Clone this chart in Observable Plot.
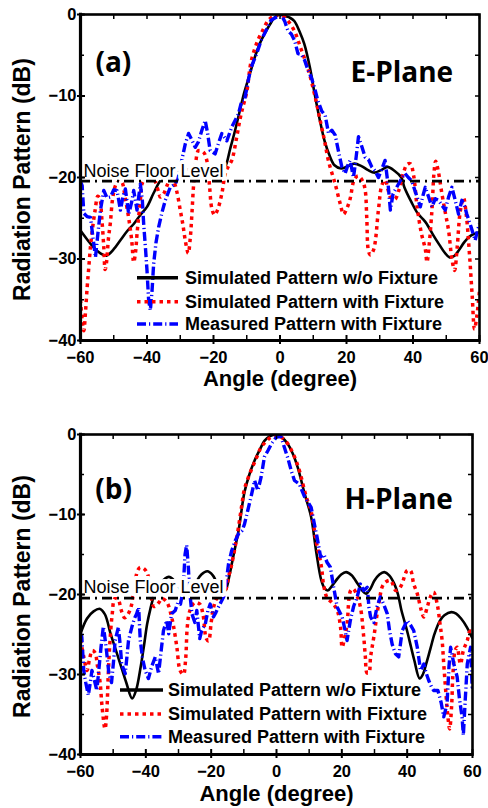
<!DOCTYPE html>
<html><head><meta charset="utf-8">
<script src="https://cdn.jsdelivr.net/npm/d3@7"></script>
<script src="https://cdn.jsdelivr.net/npm/@observablehq/plot@0.6"></script>
<style>
html,body{margin:0;padding:0;background:#fff;}
#wrap{position:relative;width:488px;height:808px;overflow:hidden;background:#fff;}
#wrap > svg{position:absolute;left:0;}
</style></head><body><div id="wrap"></div>
<script>
// ---------- data (angle in degree, pattern in dB) ----------
const xTicks = [-60, -40, -20, 0, 20, 40, 60];
const yTicks = [0, -10, -20, -30, -40];
const noiseFloor = -20.45;
const seriesNames = ["Simulated Pattern w/o Fixture", "Simulated Pattern with Fixture", "Measured Pattern with Fixture"];

// (a) E-Plane
const eSimNoFix = [[-60,-26.5],[-58,-27.6],[-56,-28.6],[-54,-29.3],[-52.2,-29.6],[-50,-28.8],[-48,-27.7],[-46,-26.6],[-44,-25.7],[-42,-24.6],[-40,-23.6],[-38,-21.9],[-36,-20.4],[-34,-19.6],[-32,-19.2],[-29,-19],[-26,-19.1],[-23,-19.3],[-20,-19.5],[-18,-19.2],[-16.5,-18.7],[-15,-16.5],[-13.5,-14.2],[-11.5,-10.8],[-10.7,-9.5],[-9,-7.2],[-7.7,-5.4],[-6,-3.5],[-4.7,-2.4],[-3,-1.2],[-1.7,-0.4],[0,0],[1.5,-0.2],[3,-0.4],[4.3,-0.8],[6,-2.2],[7.3,-3.6],[9,-6.5],[10.4,-9.7],[12,-13],[13.4,-15.5],[15,-17.4],[16.4,-18.5],[18.4,-18.9],[20.4,-18.6],[22.4,-18.3],[24.5,-18.6],[26.5,-19.1],[28.4,-19.4],[30.4,-19.1],[32.3,-18.7],[34.5,-19.2],[36.5,-20],[37.4,-21.2],[39.5,-23],[41.4,-24.4],[43,-25.1],[44,-25.6],[46,-27],[48,-28.3],[49.5,-29.2],[51,-29.8],[52.5,-29.6],[54,-28.8],[55.5,-27.9],[57.5,-27.1],[60,-26.7]];
const eSimFix = [[-60,-35],[-59.5,-37.5],[-59,-38.8],[-58.5,-36.5],[-58,-33.5],[-57.5,-31],[-57,-28.5],[-56.3,-26],[-55.6,-24],[-54.8,-22.3],[-54.2,-22.6],[-53.6,-25],[-53,-28.5],[-52.6,-31.3],[-52.2,-30.5],[-51.6,-27.5],[-51,-25.5],[-50.4,-22.8],[-49.5,-21],[-48.5,-20.3],[-47.5,-20.6],[-46.6,-22.4],[-45.5,-25],[-44.6,-27.7],[-44,-30.4],[-43.4,-29],[-43,-26.9],[-42,-22.8],[-41.5,-20.8],[-40.5,-20],[-39.5,-19.6],[-38.5,-19.8],[-37.5,-20.5],[-36.5,-21.8],[-36,-22.4],[-35,-22],[-34,-21],[-33,-20.2],[-32,-20.5],[-31,-21.8],[-30,-24],[-29.2,-25.8],[-28.5,-27.7],[-27.6,-29.3],[-27,-27.5],[-26.5,-24.5],[-26,-21],[-25.3,-18],[-24.5,-16.7],[-23,-16.9],[-21.8,-18.3],[-21.2,-21],[-20.5,-23.8],[-19.7,-24.6],[-18.8,-24],[-17.5,-22],[-16.5,-19.6],[-15.5,-18.6],[-14.5,-17.9],[-13,-15],[-12,-12.8],[-11.2,-11.4],[-10,-9.5],[-8.7,-5.8],[-6.7,-3.2],[-5,-1.8],[-3.7,-0.8],[-2,-0.2],[0,0],[2,-0.6],[4.3,-2],[6.3,-4.2],[8.3,-6.5],[10.4,-9.8],[12.4,-13.6],[13.4,-15.5],[14.6,-18],[16.6,-20.8],[18.1,-23.2],[19.1,-24.5],[20.1,-23.8],[21.1,-22.6],[22.3,-20.3],[23.5,-19.8],[24.8,-20.4],[25.6,-21.5],[26.1,-25],[26.6,-29],[27.2,-29.5],[28.2,-28.8],[29.6,-24],[30.6,-21],[31.6,-20.3],[32.5,-21.5],[33.2,-22.4],[34.5,-22.7],[35.8,-21.5],[37,-19.6],[38.2,-18.4],[39.2,-18.3],[40.2,-19.8],[41.2,-23.5],[42.5,-26.8],[43.7,-28.8],[44.2,-30.4],[44.8,-28.5],[45.7,-24],[46.3,-19.5],[46.8,-18],[47.5,-19],[48.7,-22],[49.8,-24.5],[50.7,-26.5],[51.7,-30],[52.5,-31.4],[53.3,-28.5],[54.2,-24.2],[55.2,-22.5],[56,-24.5],[57,-29.5],[57.8,-34.5],[58.5,-38.6],[59.2,-37],[60,-33.9]];
const eMeas = [[-60,-20.5],[-59.5,-21],[-59,-24.4],[-58,-24.8],[-57,-24.9],[-56.2,-27.5],[-55.5,-29.8],[-54.8,-27],[-54,-24],[-53,-21.6],[-52,-22.5],[-51,-22.4],[-50,-21.5],[-49,-21.6],[-48,-24],[-47.2,-22.3],[-46.5,-21.4],[-45.5,-24.5],[-44.6,-23],[-44,-21.6],[-43,-24],[-42,-20.8],[-41.4,-22.8],[-41,-25.7],[-40.4,-29],[-40,-31.4],[-39.5,-35.1],[-39,-36.3],[-38.5,-34],[-38,-30.6],[-37.3,-28],[-36.5,-26.1],[-35.5,-24.3],[-34.5,-22.8],[-33,-21.2],[-31.5,-20.8],[-30.5,-19.8],[-29.5,-17.8],[-28.5,-15.9],[-27.5,-14.6],[-26.5,-15.4],[-25.5,-16.3],[-24.5,-15.6],[-23.5,-14.2],[-22.5,-13],[-21.8,-14.5],[-21,-16.7],[-19.5,-17.1],[-18.5,-15.8],[-17.5,-14.6],[-16,-15.5],[-14.5,-13.8],[-12.5,-12.2],[-11.5,-10.6],[-10.7,-10.6],[-9.5,-8],[-8.7,-6.5],[-7,-4.8],[-5.7,-3.2],[-4,-1.8],[-2.7,-0.7],[-1,-0.3],[0.4,-0.1],[1.4,-0.8],[2.4,-2],[3.4,-2.4],[4.4,-3.2],[5.4,-4.8],[6.4,-4.9],[7.4,-5.6],[8.4,-6.8],[9.4,-7.7],[10.4,-9],[11.4,-10.6],[12.5,-11.8],[13.6,-12.4],[14.6,-14.6],[15.6,-14.2],[16.6,-14.8],[17.6,-16.8],[18.6,-18.7],[19.6,-19.5],[20.4,-18.5],[21.1,-17.9],[22.1,-20],[22.9,-17.5],[23.6,-15],[24.6,-16.2],[25.6,-17.5],[26.6,-17.8],[27.6,-18.7],[28.6,-19.2],[29.6,-20],[30.6,-19],[31.6,-17.9],[32.6,-21.2],[33.2,-24],[34,-22],[35.1,-21.2],[36.3,-20.3],[37.6,-19.5],[38.6,-20],[39.6,-20.4],[40.9,-22],[42.2,-23.6],[43,-22.2],[43.7,-21.2],[44.7,-22.4],[45.7,-23.6],[46.7,-22.6],[47.7,-22.8],[48.7,-23.4],[49.7,-24],[50.7,-22.4],[51.7,-21.2],[52.7,-22.8],[53.7,-24.5],[54.7,-22.8],[55.5,-23.5],[56.2,-24.5],[57.4,-26],[58.7,-27.7],[59.4,-26.5],[60,-25.7]];

// (b) H-Plane
const hSimNoFix = [[-60,-24.9],[-58,-23],[-56,-22.1],[-54,-21.8],[-52.5,-22.5],[-50.8,-24.9],[-49.3,-26.8],[-47.8,-28.7],[-46,-31],[-44.2,-33],[-43,-32],[-41.6,-29.1],[-40.6,-26.5],[-39.6,-23.7],[-38.6,-21.8],[-37.6,-20.3],[-35.5,-18.6],[-33,-17.8],[-31,-18.4],[-28.7,-19.7],[-27,-19.8],[-25,-18.7],[-23,-17.5],[-21.2,-17.1],[-19.5,-17.6],[-17.8,-19],[-16.5,-19.8],[-15.5,-19.4],[-14.5,-17.8],[-13.7,-16.2],[-12.6,-14],[-11.6,-12],[-9.8,-7.2],[-8.3,-5],[-6.7,-3.25],[-5,-1.8],[-3.7,-0.8],[-2,-0.2],[0,0],[1.5,-0.3],[3.45,-1.2],[5,-2.4],[6.5,-4.1],[8.6,-7.4],[10.6,-10.3],[12.1,-14.5],[13.7,-18.2],[14.7,-19.2],[15.7,-19.5],[17,-18.9],[18.3,-18.2],[19.8,-17.5],[21.3,-17.2],[23,-17.6],[24.9,-18.7],[26.2,-19.5],[27.4,-19.9],[28.7,-19.3],[30,-18.25],[31.5,-17.5],[33,-17.2],[34.5,-17.6],[36.1,-18.7],[37.2,-20],[38.2,-21.9],[39.2,-23.4],[40.2,-24.9],[41.2,-26.6],[42.2,-28.25],[43.8,-30.5],[44.8,-30],[45.8,-28.7],[47.1,-26.8],[48.4,-24.9],[50,-23.3],[51.4,-22.6],[53.5,-22.2],[55,-22.4],[56.5,-23],[58.3,-24.1],[60,-25.5]];
const hSimFix = [[-60,-25.7],[-59,-27.8],[-58,-29.5],[-57.2,-28],[-56.4,-27],[-55.5,-27.3],[-54.9,-28.7],[-54,-31],[-53.4,-34],[-52.5,-36.8],[-52,-35],[-51.5,-30],[-51,-26],[-50.3,-22.5],[-49.5,-20.5],[-48.5,-20.6],[-47.5,-22],[-46.5,-22.9],[-45.5,-22.5],[-44.5,-21.5],[-43.5,-19],[-42.5,-17],[-41.7,-16.6],[-40.5,-16.8],[-39.5,-17.4],[-38.5,-20],[-37.5,-21.5],[-36,-21],[-35,-20.5],[-33.5,-21],[-32.3,-22.5],[-31.5,-24],[-30.5,-26.6],[-29.5,-29.5],[-28.5,-30],[-27.8,-28],[-27.3,-24],[-26.5,-22],[-25,-21],[-23.5,-21.2],[-22.5,-22.5],[-21.5,-25.5],[-20.8,-25.8],[-20,-23.5],[-19.2,-21.5],[-18,-20.3],[-16,-19.8],[-14.5,-17.5],[-13.7,-16.2],[-12,-12.5],[-10.5,-8.5],[-9.8,-6.8],[-7.8,-4.5],[-6,-2.8],[-4.7,-1.6],[-3,-0.8],[-1.6,-0.3],[0.4,-0.1],[2,-0.5],[3.5,-1.2],[5.3,-2.6],[7,-4.5],[9.1,-7.8],[10.6,-9.6],[12.1,-13.25],[13.7,-16.4],[14.5,-19],[15.6,-20.5],[17,-21],[18.6,-22],[19.6,-24.1],[20.1,-26.6],[20.8,-25.5],[21.6,-23.7],[22.7,-19.5],[23.5,-19.3],[24.7,-20.2],[25.7,-21.6],[26.7,-25.3],[27.2,-27.8],[27.7,-29.8],[28.3,-29.8],[28.8,-27.8],[29.8,-25.3],[31.3,-21.2],[32.8,-18.7],[34.9,-18.25],[36.5,-19.5],[37.5,-19.3],[38.4,-18.7],[40,-17],[41,-17],[42,-18.7],[43.1,-19.9],[44.2,-21.8],[45.1,-22.8],[46.2,-21.5],[47.1,-20.3],[48.1,-19.7],[49.2,-21.2],[50,-23.5],[50.7,-25.75],[51.2,-28.7],[51.8,-32],[52.4,-35],[53,-36.8],[53.6,-34],[54,-30],[54.7,-27],[55.3,-26.6],[56.3,-28.7],[57.2,-27],[58.4,-25.75],[59.2,-24.6],[60,-24.6]];
const hMeas = [[-60,-24.9],[-59.6,-25.3],[-59,-29.5],[-58.4,-31],[-57.6,-32.6],[-57,-31],[-56.5,-29.5],[-55.8,-30.6],[-55,-32],[-54.5,-29.9],[-53.7,-26.5],[-53,-24],[-52.5,-25.5],[-52,-27.2],[-51.3,-29.9],[-50.5,-31],[-49.8,-28],[-49.4,-25.75],[-48.4,-24.1],[-47.8,-26.5],[-47.4,-28.7],[-46.3,-29.9],[-45.3,-25.75],[-44.3,-24.1],[-43.5,-23],[-42.8,-22.4],[-42.2,-21.6],[-41.7,-25.75],[-41,-28],[-40.2,-29.5],[-39.2,-30.5],[-38.2,-29],[-37.1,-27.8],[-36.1,-29.9],[-35.3,-27],[-34.6,-24.5],[-33.6,-23.25],[-33,-24.9],[-32.1,-22.4],[-31,-22],[-30.2,-21],[-29.4,-21.2],[-28.6,-19.5],[-28,-15],[-27.5,-13.8],[-27,-16.5],[-26.6,-19.5],[-25.9,-22.4],[-25,-23.5],[-24.4,-22],[-23.5,-25.5],[-22.9,-24.5],[-21.8,-23.7],[-21,-22],[-20.3,-21.2],[-19.3,-22.8],[-18.5,-22.2],[-17.8,-21.6],[-16.2,-20.3],[-15.2,-17.8],[-14.7,-16.2],[-13.7,-14.5],[-12.6,-13.25],[-11.5,-12.3],[-10.5,-12],[-9.8,-11.2],[-8.8,-9.5],[-7.8,-7.8],[-6.7,-5.75],[-5.7,-7],[-4.7,-5.3],[-3.7,-2.8],[-2.6,-2],[-1.6,-1.2],[0,-0.3],[1.4,-0.3],[2.4,-1.6],[3.5,-3],[4.5,-4.5],[5.5,-5.75],[7,-6.2],[8.6,-7.8],[10.6,-9.1],[11.6,-11.2],[12.4,-12.8],[13.5,-15.3],[14.5,-15],[15.5,-16],[16.5,-16.6],[17.5,-19.1],[18.6,-21.6],[20.1,-22.8],[21,-24.5],[21.6,-25.75],[22.6,-23.25],[23.6,-21.5],[24.7,-20.3],[25.7,-18.7],[26.7,-19.5],[27.8,-19.1],[28.3,-21.6],[28.8,-22.8],[29.8,-23.5],[30.8,-21.5],[31.8,-20.3],[32.8,-21.2],[33.9,-22.4],[34.6,-24.5],[35.4,-26.2],[36.4,-27.4],[37.4,-27.8],[38.5,-24.5],[40,-23.25],[41,-23.8],[42,-24.5],[43.1,-26.6],[44.1,-29.5],[45.1,-28.7],[45.8,-29.8],[46.6,-30.75],[47.4,-31.5],[48.1,-32],[49.4,-32],[50.4,-33.5],[51.2,-35.3],[52.2,-33.7],[52.8,-29],[53.3,-26.6],[54.3,-28.7],[55.3,-30.3],[56,-33],[56.8,-35.3],[57.2,-37.6],[57.8,-33],[58.4,-28.7],[59.4,-26.6],[59.9,-31.6],[60,-30]];

// ---------- styles ----------
const ARIAL = "'Liberation Sans', Arial, sans-serif";
const CALIBRI = "'Open Sans', 'Liberation Sans', sans-serif";
const styleBlack = {stroke: "#000", strokeWidth: 2.6, strokeLinecap: "butt"};
const styleRed = {stroke: "#ff0000", strokeWidth: 3.5, strokeDasharray: "3.5,4", strokeLinecap: "butt"};
const styleBlue = {stroke: "#0000ff", strokeWidth: 3.4, strokeDasharray: "9,3,1.2,3", strokeLinecap: "butt"};

const wrap = document.getElementById("wrap");

function panel(cfg) {
  const W = 488;
  const fw = W - 80 - cfg.mRight;
  const fh = cfg.height - cfg.mTop - cfg.mBottom;
  const minorX = [-50, -30, -10, 10, 30, 50];
  const allX = d3.range(-60, 61, 10);
  const allY = d3.range(0, -41, -5);
  const plot = Plot.plot({
    width: W,
    height: cfg.height,
    marginLeft: 80,
    marginRight: cfg.mRight,
    marginTop: cfg.mTop,
    marginBottom: cfg.mBottom,
    style: {fontFamily: ARIAL, fontSize: "16.5px", fontWeight: "bold", color: "#000", background: "transparent", overflow: "visible"},
    x: {domain: [-60, 60]},
    y: {domain: [-40, 0]},
    marks: [
      Plot.line(cfg.sims, {...styleBlack, curve: "catmull-rom", clip: true}),
      Plot.line(cfg.simf, {...styleRed, curve: "catmull-rom", clip: true}),
      Plot.line(cfg.meas, {...styleBlue, curve: "linear", clip: true}),
      Plot.text(["Noise Floor Level"], {x: -59.1, y: cfg.noiseY, text: d => d, textAnchor: "start", lineAnchor: "middle", fontFamily: ARIAL, fontWeight: "normal", fontSize: 18, stroke: "white", strokeWidth: 8, fill: "#000"}),
      Plot.ruleY([noiseFloor], {stroke: "#000", strokeWidth: 2.6, strokeDasharray: "10,5,2,5"}),
      Plot.text([cfg.tag], {x: -55.5, y: cfg.tagY, text: d => d, textAnchor: "start", lineAnchor: "middle", fontFamily: CALIBRI, fontWeight: "bold", fontSize: 28}),
      Plot.text([cfg.plane], {x: cfg.planeX, y: cfg.tagY - 1.2, text: d => d, textAnchor: "start", lineAnchor: "middle", fontFamily: CALIBRI, fontWeight: "bold", fontSize: 28}),
      // frame
      Plot.frame({stroke: "#000", strokeWidth: 2.6}),
      Plot.ruleX([-60], {strokeWidth: 3.2, insetTop: -1.3, insetBottom: -1.3}),
      Plot.ruleY([-40], {strokeWidth: 3, insetLeft: -1.3, insetRight: -1.3}),
      // ticks
      Plot.tickY(yTicks, {y: d => d, insetLeft: -3, insetRight: fw - 5, strokeWidth: 2}),
      Plot.tickY(allY, {y: d => d, insetLeft: 0, insetRight: fw - 4, strokeWidth: 1.5}),
      Plot.tickY(allY, {y: d => d, insetLeft: fw - 4, insetRight: 0, strokeWidth: 1.5}),
      Plot.tickX(xTicks, {x: d => d, insetTop: fh - 5, insetBottom: -4, strokeWidth: 2}),
      Plot.tickX(minorX, {x: d => d, insetTop: fh - 5, insetBottom: 0, strokeWidth: 1.5}),
      Plot.tickX(allX, {x: d => d, insetTop: 0, insetBottom: fh - 5, strokeWidth: 1.5}),
      // axes
      Plot.axisY(yTicks, {tickSize: 0, tickPadding: 4, label: null, fontSize: 16.5, fontWeight: "bold"}),
      Plot.axisX(xTicks, {tickSize: 0, tickPadding: 11, label: null, fontSize: 16.5, fontWeight: "bold"}),
      Plot.text(["Radiation Pattern (dB)"], {frameAnchor: "left", textAnchor: "middle", lineAnchor: "middle", rotate: -90, dx: -58, dy: 2, text: d => d, fontSize: 23, fontWeight: "bold"}),
      Plot.text(["Angle (degree)"], {frameAnchor: "bottom", textAnchor: "middle", lineAnchor: "middle", dy: cfg.xTitleDy, text: d => d, fontSize: 22, fontWeight: "bold"})
    ]
  });
  plot.style.top = cfg.top + "px";
  wrap.appendChild(plot);
}

panel({sims: eSimNoFix, simf: eSimFix, meas: eMeas, tag: "(a)", plane: "E-Plane", planeX: 21.2, tagY: -6.0, noiseY: -19.2,
       top: 0, height: 400, mTop: 14, mBottom: 60, mRight: 9, xTitleDy: 38});
panel({sims: hSimNoFix, simf: hSimFix, meas: hMeas, tag: "(b)", plane: "H-Plane", planeX: 20.8, tagY: -7.0, noiseY: -19.1,
       top: 400, height: 408, mTop: 34, mBottom: 54, mRight: 16, xTitleDy: 39});

// ---------- legends ----------
const leg = d3.select(wrap).append("svg").attr("width", 488).attr("height", 808).style("top", "0px");
const legendStyles = [styleBlack, styleRed, styleBlue];
function legend(x0, x1, tx, ys) {
  seriesNames.forEach((name, i) => {
    const s = legendStyles[i];
    leg.append("line").attr("x1", x0).attr("x2", x1).attr("y1", ys[i]).attr("y2", ys[i])
      .attr("stroke", s.stroke).attr("stroke-width", i === 0 ? 3.4 : s.strokeWidth)
      .attr("stroke-dasharray", s.strokeDasharray || null);
    leg.append("text").attr("x", tx).attr("y", ys[i]).attr("dy", "0.36em")
      .attr("font-family", ARIAL).attr("font-weight", "bold").attr("font-size", 18).text(name);
  });
}
legend(137, 178, 185, [277.7, 301.7, 324]);
legend(120, 163, 168, [690, 714, 736.7]);
</script></body></html>
